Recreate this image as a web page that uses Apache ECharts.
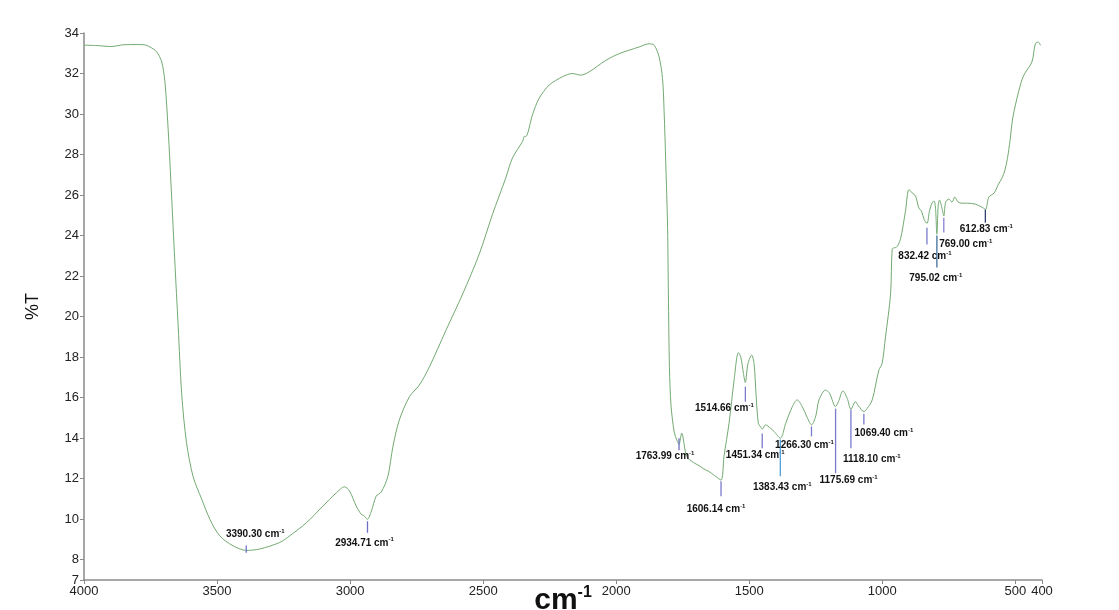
<!DOCTYPE html>
<html>
<head>
<meta charset="utf-8">
<script src="https://cdn.jsdelivr.net/npm/echarts@6/dist/echarts.min.js"></script>
<style>
html,body{margin:0;padding:0;background:#fff;}
#chart{width:1119px;height:610px;}
</style>
</head>
<body>
<div id="chart"></div>
<script>
// ---- Data ----
const wavenumbers = [4000,3950,3900,3850,3800,3775,3752,3727,3708,3696,3684,3671,3659,3646,3633,3615,3590,3558,3527,3490,3440,3390,3340,3265,3227,3164,3102,3052,3021,3002,2977,2958,2950,2935,2920,2902,2883,2858,2839,2815,2777,2740,2702,2640,2577,2515,2465,2415,2390,2352,2345,2340,2315,2290,2252,2202,2165,2133,2102,2039,1989,1914,1876,1857,1839,1826,1820,1814,1807,1804,1800,1794,1782,1772,1764,1754,1735,1710,1689,1673,1651,1630,1606,1595,1576,1557,1541,1532,1522,1515,1505,1491,1482,1474,1466,1457,1451,1439,1420,1407,1383,1363,1338,1320,1301,1285,1266,1250,1238,1213,1198,1176,1165,1148,1132,1118,1101,1090,1069,1057,1038,1013,1001,988,969,963,955,948,932,913,900,888,875,863,853,843,832,823,812,805,800,795,790,785,775,769,762,750,738,728,715,700,680,650,625,612,600,580,565,550,540,530,520,510,488,469,438,425,413,406];
const transmittance = [33.40,33.38,33.33,33.42,33.43,33.42,33.31,33.07,32.57,31.6,29.3,26.0,22.8,19.5,16.2,13.8,12.1,11.0,10.0,9.18,8.69,8.46,8.53,8.85,9.18,9.83,10.65,11.30,11.60,11.39,10.65,10.24,10.2,10.0,10.40,11.14,11.34,12.12,13.6,14.9,16.05,16.62,17.52,19.32,21.12,23.08,25.05,26.85,27.83,28.65,28.9,28.89,29.95,30.77,31.43,31.84,32.0,31.92,32.08,32.65,32.98,33.31,33.47,33.39,32.82,31.75,30.12,27.67,24.39,21.12,17.5,15.6,14.3,13.9,13.7,14.25,13.1,12.8,12.65,12.5,12.35,12.15,11.93,13.1,14.74,16.87,18.22,18.01,17.2,16.75,17.68,18.1,17.68,16.05,14.74,14.55,14.45,14.66,14.49,14.33,14.0,14.74,15.56,15.89,15.56,15.1,14.66,15.1,15.89,16.38,16.21,15.56,15.8,16.33,15.97,15.43,15.8,15.6,15.31,15.47,15.89,17.36,17.68,19.0,21.12,23.33,23.4,23.41,23.82,25.21,26.27,26.11,25.95,25.37,25.21,24.8,24.6,25.2,25.65,25.7,25.3,24.07,25.5,25.75,25.3,24.97,25.65,25.8,25.65,25.9,25.65,25.6,25.6,25.55,25.4,25.29,25.9,26.1,26.5,26.85,27.2,27.8,28.7,29.8,31.1,31.9,32.57,33.47,33.55,33.39];

// Annotated peaks
const peakWn = [3390.30,2934.71,1763.99,1606.14,1514.66,1451.34,1383.43,1266.30,1175.69,1118.10,1069.40,832.42,795.02,769.00,612.83];
const peakLabels = ['3390.30','2934.71','1763.99','1606.14','1514.66','1451.34','1383.43','1266.30','1175.69','1118.10','1069.40','832.42','795.02','769.00','612.83'];
const tickTop = [8.70,9.90,14.00,11.88,16.54,14.23,13.94,14.58,15.46,15.41,15.21,24.39,24.00,24.88,25.28];
const tickBottom = [8.34,9.33,13.40,11.14,15.80,13.50,12.12,14.09,12.27,13.50,14.67,23.56,22.43,24.15,24.64];

// Tick labels
const xTicks = [4000,3500,3000,2500,2000,1500,1000,500,400];
const yTicks = [7,8,10,12,14,16,18,20,22,24,26,28,30,32,34];

// ---- Layout / style (not data) ----
const LABEL_OFFSETS = [[9,-19],[-3,10],[-14,6],[-5,13],[-21,7],[-7,7],[2,11],[-7,9],[13,7],[21,11],[20,9],[-2,12],[-1,11],[22,12],[1,7]];
const TICK_COLORS = ['#6f6fc8','#6f6fc8','#7070c0','#7a7acc','#7a7acc','#7a7acc','#4f9fd8','#7a7acc','#7a7acc','#7a7acc','#7a7acc','#7a7acc','#3f6f9a','#8a80d0','#2f3f6f'];
const FONT = '"Liberation Sans", Arial, Helvetica, sans-serif';

const lineData = wavenumbers.map((w, i) => [w, transmittance[i]]);
const peakData = peakWn.map((w, i) => [w, tickTop[i], tickBottom[i]]);

const chart = echarts.init(document.getElementById('chart'), null, {renderer: 'canvas'});
chart.setOption({
  animation: false,
  backgroundColor: '#fff',
  grid: {left: 84, right: 77, top: 33, bottom: 30, containLabel: false, outerBoundsMode: 'none'},
  xAxis: {
    type: 'value', min: 400, max: 4000, inverse: true,
    name: '{a|cm}{b|-1}', nameLocation: 'middle', nameGap: 5, nameMoveOverlap: false,
    nameTextStyle: {
      rich: {
        a: {fontSize: 30, fontWeight: 'bold', color: '#111', fontFamily: FONT, lineHeight: 32},
        b: {fontSize: 16, fontWeight: 'bold', color: '#111', fontFamily: FONT, verticalAlign: 'top', lineHeight: 16}
      }
    },
    axisLine: {show: true, lineStyle: {color: '#8a8a8a', width: 1.5}},
    axisTick: {show: true, length: 4, customValues: xTicks, lineStyle: {color: '#8a8a8a'}},
    axisLabel: {customValues: xTicks, color: '#222', fontSize: 13, fontFamily: FONT, margin: 5,
                formatter: v => String(v)},
    splitLine: {show: false}
  },
  yAxis: {
    type: 'value', min: 7, max: 34,
    name: '%T', nameLocation: 'middle', nameGap: 42, nameRotate: 90, nameMoveOverlap: false,
    nameTextStyle: {fontSize: 18, color: '#111', fontFamily: FONT},
    axisLine: {show: true, lineStyle: {color: '#8a8a8a', width: 1.5}},
    axisTick: {show: true, length: 4, customValues: yTicks, lineStyle: {color: '#8a8a8a'}},
    axisLabel: {customValues: yTicks, color: '#222', fontSize: 13, fontFamily: FONT, margin: 5,
                formatter: v => String(v)},
    splitLine: {show: false}
  },
  series: [
    {
      type: 'line', data: lineData, showSymbol: false, smooth: 0.3,
      lineStyle: {color: '#72aa72', width: 1},
      z: 2
    },
    {
      type: 'custom', coordinateSystem: 'cartesian2d', data: peakData, z: 3, clip: false,
      renderItem: function (params, api) {
        const i = params.dataIndex;
        const p1 = api.coord([api.value(0), api.value(1)]);
        const p2 = api.coord([api.value(0), api.value(2)]);
        const off = LABEL_OFFSETS[i];
        return {
          type: 'group',
          children: [
            {type: 'line', shape: {x1: p1[0], y1: p1[1], x2: p2[0], y2: p2[1]},
             style: {stroke: TICK_COLORS[i], lineWidth: 1.3}},
            {type: 'text', x: p2[0] + off[0], y: p2[1] + off[1],
             style: {
               text: '{n|' + peakLabels[i] + ' cm}{s|-1}',
               align: 'center', verticalAlign: 'middle',
               rich: {
                 n: {fontSize: 10, fontWeight: 'bold', fill: '#111', fontFamily: FONT, lineHeight: 12},
                 s: {fontSize: 6, fontWeight: 'bold', fill: '#111', fontFamily: FONT, verticalAlign: 'top', lineHeight: 6}
               }
             }}
          ]
        };
      }
    }
  ]
});
</script>
</body>
</html>
